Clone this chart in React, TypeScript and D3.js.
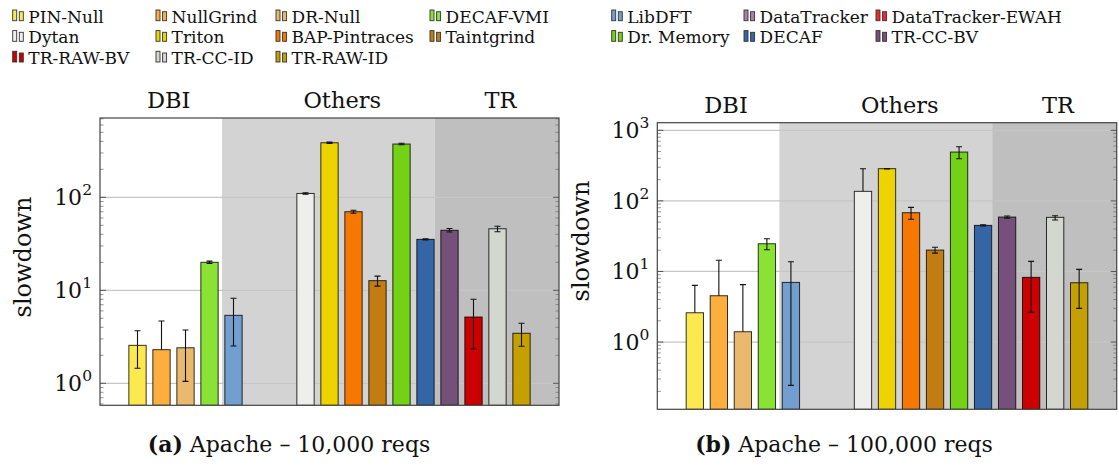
import * as d3 from 'd3';
import React from 'react';

// tools, in slot order (DataTracker ones have no bar in these plots)
const tools = [
	'PIN-Null', 'NullGrind', 'DR-Null', 'DECAF-VMI', 'LibDFT', 'DataTracker', 'DataTracker-EWAH',
	'Dytan', 'Triton', 'BAP-Pintraces', 'Taintgrind', 'Dr. Memory', 'DECAF', 'TR-CC-BV',
	'TR-RAW-BV', 'TR-CC-ID', 'TR-RAW-ID',
];
const toolColors = [
	'#fce94f', '#fcaf3e', '#e9b96e', '#8ae234', '#729fcf', '#ad7fa8', '#ef2929',
	'#eeeeec', '#edd400', '#f57900', '#c17d11', '#73d216', '#3465a4', '#75507b',
	'#cc0000', '#d3d7cf', '#c4a000',
];

// Apache 10,000 reqs
const slow10k = [2.56, 2.3, 2.41, 20.0, 5.38, null, null, 110, 386, 70, 12.7, 374, 35.3, 44.2, 5.16, 45.9, 3.45];
const hi10k = [3.68, 4.68, 3.74, 20.6, 8.2, null, null, 112, 392, 72.5, 14.2, 381, 35.7, 46.2, 8.0, 48.8, 4.42];
const lo10k = [1.45, null, 1.05, 19.4, 2.52, null, null, 108, 380, 67.5, 11.1, 367, 34.9, 42.3, 2.34, 42.7, 2.5];

// Apache 100,000 reqs
const slow100k = [2.6, 4.53, 1.4, 24.7, 7.0, null, null, 136.5, 286, 68, 20.1, 492, 45, 59, 8.25, 58.5, 6.92];
const hi100k = [6.36, 14.4, 6.5, 29.1, 13.7, null, null, 285, 288, 81, 22, 586, 46, 61, 13.9, 61.6, 10.7];
const lo100k = [null, null, null, 20.3, 0.243, null, null, null, 284, 55, 18.2, 396, 44, 57, 2.63, 53.7, 3.0];

const groups = ['DBI', 'Others', 'TR'];
const groupPos = [1.3, 8.53, 15.12]; // slot units
const groupEdges = [3.52, 12.38];

const FONT = "'DejaVu Serif', serif";
const serif = { fontFamily: FONT };

const panels = [
	{
		vals: slow10k, hi: hi10k, lo: lo10k, caption: 'Apache \u2013 10,000 reqs', tag: '(a)',
		left: 100, right: 559, top: 118, bottom: 405.3,
		domain: [Math.pow(10, -0.2366), Math.pow(10, 2.853)], majors: [1, 10, 100],
		labelY: 108, ylabX: 31, ylabY: 257, capX: 289,
	},
	{
		vals: slow100k, hi: hi100k, lo: lo100k, caption: 'Apache \u2013 100,000 reqs', tag: '(b)',
		left: 657.3, right: 1116.7, top: 122.7, bottom: 409.3,
		domain: [Math.pow(10, -0.953), Math.pow(10, 3.108)], majors: [1, 10, 100, 1000],
		labelY: 113, ylabX: 589, ylabY: 241, capX: 844,
	},
];

const Panel = ({ p, id }: { p: any; id: number }) => {
	const x = d3.scalePoint<string>().domain(tools).range([p.left, p.right]).padding(1.5625);
	const at = (i: number) => (x(tools[0]) as number) + i * x.step();
	const y = d3.scaleLog().domain(p.domain).range([p.bottom, p.top]);
	const bw = 17.3;

	const minors: number[] = [];
	for (let e = -2; e <= 4; e++) {
		for (let k = 2; k <= 9; k++) {
			const v = k * Math.pow(10, e);
			if (v > p.domain[0] && v < p.domain[1]) minors.push(v);
		}
	}
	const e0 = at(groupEdges[0]);
	const e1 = at(groupEdges[1]);
	const clip = `clip${id}`;

	return (
		<g style={serif}>
			<defs>
				<clipPath id={clip}>
					<rect x={p.left} y={p.top} width={p.right - p.left} height={p.bottom - p.top} />
				</clipPath>
			</defs>
			<rect x={e0} y={p.top} width={e1 - e0} height={p.bottom - p.top} fill="#d3d3d3" />
			<rect x={e1} y={p.top} width={p.right - e1} height={p.bottom - p.top} fill="#bfbfbf" />
			{p.majors.map((m: number) => (
				<line key={m} x1={p.left} x2={p.right} y1={y(m)} y2={y(m)} stroke="#c6c6c6" strokeWidth={1.2} />
			))}
			<g clipPath={`url(#${clip})`}>
				{p.vals.map((v: number | null, i: number) => v == null ? null : (
					<rect key={i} x={(x(tools[i]) as number) - bw / 2} y={y(v)} width={bw}
						height={p.bottom - y(v)} fill={toolColors[i]} stroke="#000" strokeOpacity={0.8} strokeWidth={1} />
				))}
				{p.vals.map((v: number | null, i: number) => {
					if (v == null || p.hi[i] == null) return null;
					const cx = x(tools[i]) as number;
					const yh = y(p.hi[i]);
					const yl = p.lo[i] == null ? y(v) : y(p.lo[i]);
					return (
						<g key={i} stroke="#111" strokeWidth={1.1}>
							<line x1={cx} x2={cx} y1={yh} y2={yl} />
							<line x1={cx - 3} x2={cx + 3} y1={yh} y2={yh} />
							{p.lo[i] != null && <line x1={cx - 3} x2={cx + 3} y1={yl} y2={yl} />}
						</g>
					);
				})}
			</g>
			{/* ticks, both sides */}
			{p.majors.map((m: number) => (
				<g key={m} stroke="#555" strokeWidth={1}>
					<line x1={p.left} x2={p.left + 6} y1={y(m)} y2={y(m)} />
					<line x1={p.right - 6} x2={p.right} y1={y(m)} y2={y(m)} />
				</g>
			))}
			{minors.map((m) => (
				<g key={m} stroke="#777" strokeWidth={0.8}>
					<line x1={p.left} x2={p.left + 3.5} y1={y(m)} y2={y(m)} />
					<line x1={p.right - 3.5} x2={p.right} y1={y(m)} y2={y(m)} />
				</g>
			))}
			<rect x={p.left} y={p.top} width={p.right - p.left} height={p.bottom - p.top}
				fill="none" stroke="#444" strokeWidth={1.2} />
			{p.majors.map((m: number) => (
				<text key={m} x={p.left - 8} y={y(m) + 8} textAnchor="end" fontSize={22} fill="#111">
					<tspan>10</tspan>
					<tspan dy={-10} fontSize={15.5}>{Math.round(Math.log10(m))}</tspan>
				</text>
			))}
			{groups.map((g, i) => (
				<text key={g} x={at(groupPos[i])} y={p.labelY} textAnchor="middle" fontSize={22.5} fill="#111">{g}</text>
			))}
			<text transform={`translate(${p.ylabX},${p.ylabY}) rotate(-90)`} textAnchor="middle" fontSize={24} fill="#111">slowdown</text>
			<text x={p.capX} y={452} textAnchor="middle" fontSize={22} fill="#111">
				<tspan fontWeight="bold">{p.tag}</tspan>
				<tspan>{'\u00a0' + p.caption}</tspan>
			</text>
		</g>
	);
};

const legendCols = [12.7, 156, 276, 430, 611.7, 744, 876];
const legendRows = [22.7, 43.3, 64];

const Legend = () => (
	<g style={serif}>
		{tools.map((t, i) => {
			const lx = legendCols[i % 7];
			const ly = legendRows[Math.floor(i / 7)];
			return (
				<g key={t}>
					<rect x={lx} y={ly - 12.7} width={4} height={10.7} fill={toolColors[i]} stroke="#333" strokeWidth={0.9} />
					<rect x={lx + 6.6} y={ly - 11} width={4} height={9} fill={toolColors[i]} stroke="#333" strokeWidth={0.9} />
					<text x={lx + 15.6} y={ly} fontSize={17} fill="#111">{t}</text>
				</g>
			);
		})}
	</g>
);

export default function App() {
	return (
		<svg width={1119} height={470} style={{ position: 'absolute', left: 0, top: 0, background: '#fff' }}>
			<Legend />
			{panels.map((p, i) => <Panel key={i} p={p} id={i} />)}
		</svg>
	);
}
